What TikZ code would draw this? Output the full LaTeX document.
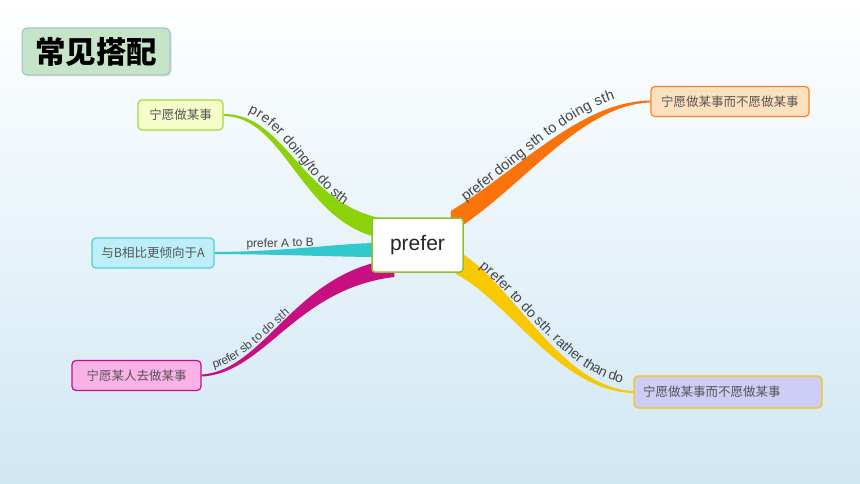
\documentclass[tikz,border=0pt]{standalone}
\usepackage{fontspec}
\setmainfont{Liberation Sans}
\newfontfamily\cjk{Noto Sans CJK SC}
\usetikzlibrary{calc,decorations.text,shadows}

\definecolor{bgblue}{RGB}{208,231,244}
\definecolor{txtgray}{RGB}{85,85,85}
\definecolor{lblgray}{RGB}{70,70,70}
\definecolor{titlefill}{RGB}{197,228,200}
\definecolor{titleline}{RGB}{160,190,205}
\definecolor{hubline}{RGB}{140,195,45}
\definecolor{greenrib}{RGB}{140,210,10}
\definecolor{orangerib}{RGB}{250,115,10}
\definecolor{cyanrib}{RGB}{50,200,205}
\definecolor{magentarib}{RGB}{200,15,130}
\definecolor{yellowrib}{RGB}{248,200,0}
\definecolor{aFill}{RGB}{245,253,200}
\definecolor{bFill}{RGB}{190,238,248}
\definecolor{cFill}{RGB}{250,178,230}
\definecolor{dFill}{RGB}{253,225,190}
\definecolor{eFill}{RGB}{205,205,245}

\pgfdeclarelayer{bg}
\pgfsetlayers{bg,main}

\tikzset{
  topic/.style={draw, line width=1.2pt, rounded corners=4pt, inner sep=0pt,
    font=\cjk\fontsize{12.5}{14}\selectfont, text=txtgray, minimum height=30pt},
  hubbox/.style={draw=hubline, fill=white, line width=1.5pt, rounded corners=3pt,
    minimum width=91pt, minimum height=54pt, font=\fontsize{21}{24}\selectfont, text=black!85},
  titlebox/.style={draw=titleline, fill=titlefill, line width=1pt, rounded corners=5pt,
    minimum width=148pt, minimum height=47pt, font=\cjk\bfseries\fontsize{30.5}{31}\selectfont,
    drop shadow={shadow xshift=1.5pt, shadow yshift=-1.5pt, opacity=0.25}}
}

% colour, thin end, control 1, control 2, thick end, half width
\newcommand{\ribbon}[6]{%
  \fill[#1] ($(#2)+(0,-1)$) .. controls ($(#3)+(0,-1.5)$) and ($(#4)+(0,-#6)$) .. ($(#5)+(0,-#6)$)
    -- ($(#5)+(0,#6)$) .. controls ($(#4)+(0,#6)$) and ($(#3)+(0,1.5)$) .. ($(#2)+(0,1)$) -- cycle;}
\newcommand{\lblS}{\fontsize{12}{12}\selectfont\color{lblgray}}
\newcommand{\lblM}{\fontsize{14}{14}\selectfont\color{lblgray}}
\newcommand{\lblL}{\fontsize{14.5}{15}\selectfont\color{lblgray}}

\begin{document}
\begin{tikzpicture}[x=1pt,y=-1pt]
\useasboundingbox (0,0) rectangle (860,484);

% title
\node[titlebox] (title) at (96,51.5) {常见搭配};

% centre and topics
\node[hubbox] (hub) at (417.5,245) {prefer};
\node[topic, fill=aFill, draw=greenrib!80, minimum width=85pt] (a) at (180.5,115) {宁愿做某事};
\node[topic, fill=bFill, draw=cyanrib!85, minimum width=122pt] (b) at (153,253) {与B相比更倾向于A};
\node[topic, fill=cFill, draw=magentarib, minimum width=129pt] (c) at (136.5,375.5) {宁愿某人去做某事};
\node[topic, fill=dFill, draw=orangerib!90, text width=138pt, inner xsep=10pt, align=left] (d) at (730,101.5) {宁愿做某事而不愿做某事};
\node[topic, fill=eFill, draw=yellowrib, text width=170pt, inner xsep=9pt, align=left, minimum height=32pt] (e) at (728,392) {宁愿做某事而不愿做某事};

% ends under the centre box
\coordinate (gIn) at ($(hub.west)+(8,-17)$);
\coordinate (cIn) at ($(hub.west)+(8,5)$);
\coordinate (mIn) at ($(hub.west)+(23,23)$);
\coordinate (oIn) at ($(hub.east)+(-13,-23)$);
\coordinate (yIn) at ($(hub.east)+(-8,17)$);

\begin{pgfonlayer}{bg}
  \shade[top color=white, bottom color=bgblue] (0,0) rectangle (860,484);
  \ribbon{greenrib}{a.east}{285,115}{300,210}{gIn}{10}
  \ribbon{cyanrib}{b.east}{290,253}{340,250}{cIn}{7}
  \ribbon{magentarib}{c.east}{265,372}{295,280}{mIn}{9}
  \ribbon{orangerib}{d.west}{580,103}{520,180}{oIn}{11}
  \ribbon{yellowrib}{e.west}{560,390}{510,290}{yIn}{12}
\end{pgfonlayer}

% labels along the branches
\path[decorate, decoration={text along path, raise=7pt, text align={left indent=22pt},
  text={|\lblM|prefer doing/to do sth}}] (a.east) .. controls (285,115) and (300,210) .. (gIn);
\path[decorate, decoration={text along path, raise=5pt, text align={left indent=32pt},
  text={|\lblS|prefer A to B}}] (b.east) .. controls (290,253) and (340,250) .. (cIn);
\path[decorate, decoration={text along path, raise=5pt, text align={left indent=14pt},
  text={|\lblS|prefer sb to do sth}}] (c.east) .. controls (265,372) and (295,280) .. (mIn);
\path[decorate, decoration={text along path, raise=9pt, text align={left indent=24pt},
  text={|\lblL|prefer doing sth to doing sth}}] (oIn) .. controls (520,180) and (580,103) .. (d.west);
\path[decorate, decoration={text along path, raise=8pt, text align={left indent=22pt},
  text={|\lblM|prefer to do sth. rather than do}}] (yIn) .. controls (510,290) and (560,390) .. (e.west);
\end{tikzpicture}
\end{document}
